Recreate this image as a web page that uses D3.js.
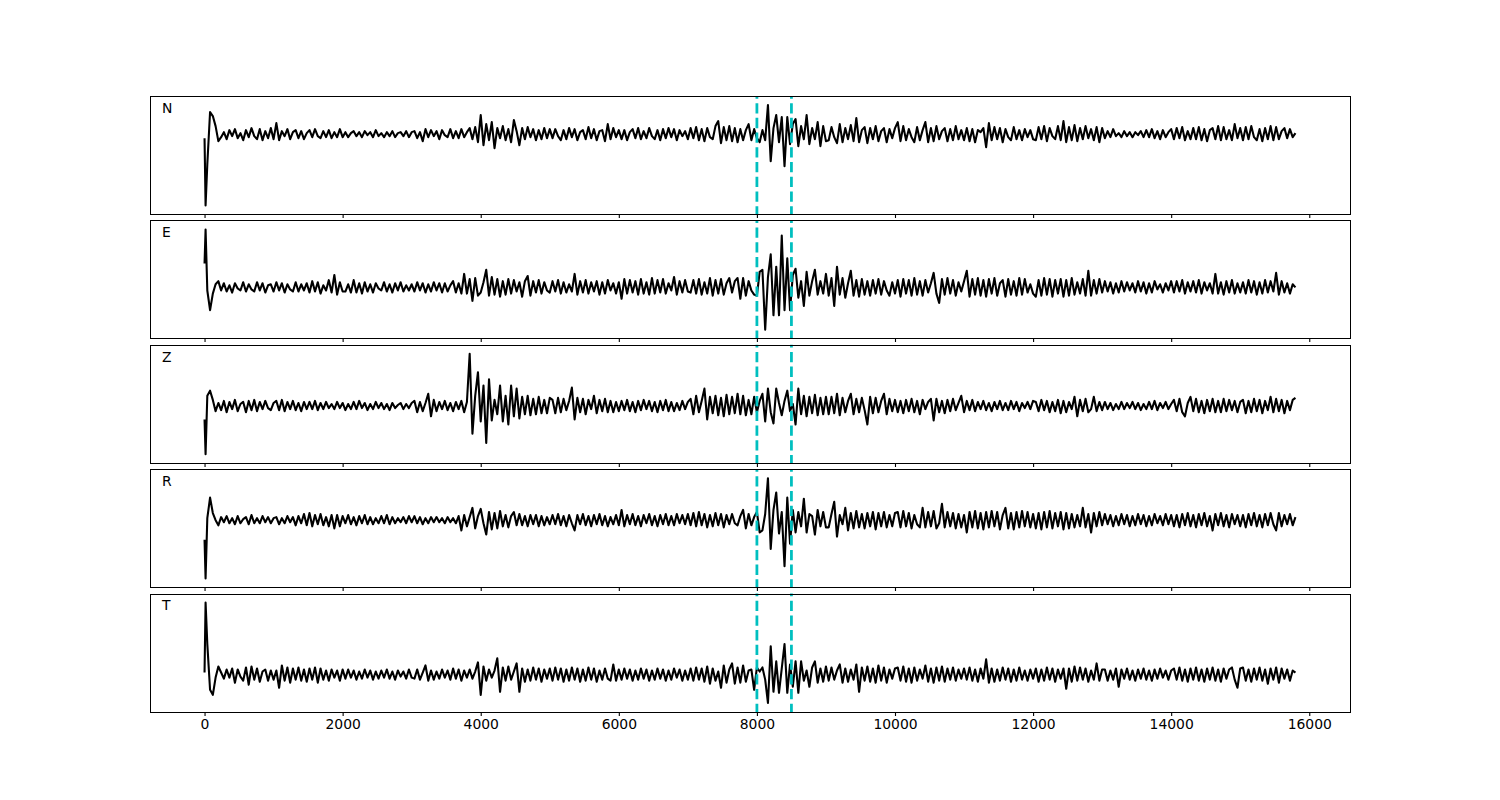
<!DOCTYPE html>
<html><head><meta charset="utf-8">
<script src="https://cdn.jsdelivr.net/npm/d3@7"></script>
<style>body{margin:0;background:#fff}svg{display:block}</style>
</head><body><svg id="chart" width="1500" height="800"></svg>
<script>
// ---------- data ----------
const channels = ["N", "E", "Z", "R", "T"];
const onsetTimes = [0, 15];
const regularTimes = d3.range(40, 15801, 40);
const times = onsetTimes.concat(regularTimes);
const markerTimes = [8000, 8500];
const tickValues = [0, 2000, 4000, 6000, 8000, 10000, 12000, 14000, 16000];

const traceN = [-4, -71,
 -30, 22, 18, 8, -7, -3, 2, -5, 4, -2, 5, -4, 1, -6, 4, -3, 6, -2, -5, 5, -6, 3, -4, 6, -5,
 11, -6, 3, -2, 5, -5, 2, 4, -4, 3, -5, 1, 4, -3, 5, -2, -4, 3, -3, 4, -4, 2, -3, 5, -3,
 2, -3, 1, 3, -2, 2, -3, 3, -1, 2, -3, 4, -2, 1, -3, 2, -2, 3, -3, 1, 2, -2, 3, -3, 2,
 3, -4, 2, -7, 5, -3, 4, -2, 3, -5, 4, -1, -3, 5, -4, 3, -4, 5, -3, 2, 6, -5, 7, -8, 19,
 -11, 10, -6, 12, -14, 6, -4, 8, -6, 5, -8, 14, 3, -11, 6, -5, 7, -3, 5, -6, 4, -5, 6, -4, 5,
 -4, 5, -2, -6, 4, -5, 6, -3, 5, -6, 2, 4, -5, 7, -4, 5, -6, 3, 4, -7, 10, -5, 6, -3, 4,
 -5, 4, -6, 2, 5, -4, 6, -5, 3, -4, 6, -2, -5, 4, -6, 5, -4, 6, -3, 5, -6, 4, -2, 3, -5,
 6, -4, 7, -6, 5, -7, 6, -3, -5, 8, 13, -9, 7, -6, 8, -7, 6, -8, 5, -6, 4, 10, -6, 5, -4,
 -8, 4, -6, 29, -27, 6, 19, -8, 17, -32, 17, -10, 10, 15, -12, 8, -5, 19, -10, 6, -5, 12, -12, 8, -7,
 -6, 7, -3, -9, 10, -8, 6, -5, 9, -7, 16, -8, 4, 7, -9, 6, -5, 8, -7, 3, 6, -8, 5, -4, 6,
 12, -7, 8, -6, 5, -3, -8, 7, -6, 4, 12, -8, 6, -7, 8, -5, 3, 6, -7, 5, -6, 8, -5, 4, -6,
 6, -7, 5, -8, 4, 2, 6, -13, 11, -6, 7, -5, 6, -8, 5, -3, -6, 7, -5, 4, -6, 5, -3, 4, -5,
 -6, 7, -5, 8, -7, 6, -2, -5, 8, -6, 13, -8, 7, -6, 9, -7, 6, -5, 8, -4, 5, -6, 7, -8, 6,
 -4, 3, -3, 5, -2, 1, -3, 3, -2, 2, -3, 2, -1, 3, -3, 4, -3, 5, -4, 3, -5, 4, -3, 2, 5,
 -5, 6, -4, 7, -6, 3, -5, 6, -5, 7, -6, 5, -7, 4, 6, -5, 8, -6, 7, -5, 4, -6, 10, -4, 6,
 -6, 7, -5, 8, -3, -6, 5, -7, 6, -5, 8, -6, 7, -5, 3, 6, -4, 5, -3, 1];

const traceE = [23, 56,
 -3, -22, -6, 3, 6, -3, 4, -4, 2, -5, 4, -1, -3, 5, -4, 3, -2, -4, 5, -3, 4, -5, 2, 3, -4,
 5, -3, 4, -5, 3, -2, -4, 5, -4, 3, -3, 4, -5, 6, -4, 5, -6, 2, -3, 7, -5, 12, -7, 5, -4,
 -4, 3, -5, 7, -5, 4, -6, 5, -4, 3, -5, 4, -1, -3, 5, -4, 3, -5, 4, -3, 5, -4, 2, -3, 3,
 -4, 5, -3, 4, -5, 3, -4, 5, -3, 4, -5, 4, -4, 2, 6, -5, 4, -6, 13, -6, 8, -13, 9, -8, -5,
 5, 17, -8, 10, -7, 8, -9, 6, -7, 8, -6, 7, -4, 5, -9, 6, 11, -8, 6, -5, 7, -6, 5, -3, -5,
 6, -4, 7, -6, 5, -5, 3, -4, 13, -7, 6, -5, 7, -6, 5, -4, 6, -7, 5, -6, 7, -3, 4, -6, 5,
 -11, 8, -6, 7, -5, 6, -7, 8, -6, 5, -7, 9, -6, 7, -5, 8, -6, 4, -3, 10, -7, 6, -5, 7, -4,
 -5, 7, -6, 8, -7, 5, -6, 9, -8, 7, -6, 8, -7, 4, 9, -5, 6, 9, -11, 9, -8, 6, -3, -7, -8,
 15, 17, -41, 10, 32, -27, 20, -27, 50, -22, 28, -22, 12, 18, -10, 6, -18, 15, -8, 6, 17, -7, 6, -6, 13,
 -8, 9, -18, 20, -7, 9, -10, 4, 16, -8, 7, -9, 8, -7, 6, -8, 7, -6, 8, -7, 6, -3, -8, 5, -6,
 7, -9, 8, -6, 7, -8, 9, -7, 6, -8, 7, -5, 4, 14, -6, -15, 8, -7, 9, -6, 7, -8, 5, -4, 6,
 16, -9, 8, -7, 9, -8, 7, -9, 8, -6, 9, -8, 4, 7, -9, 8, -7, 6, -8, 9, -7, 8, -5, 3, -6,
 -9, 7, -8, 9, -7, 8, -9, 7, -6, 8, -9, 7, -8, 9, -7, 5, -6, 8, -8, 16, -8, 7, -6, 8, -5,
 6, -4, 5, -6, 4, -5, 6, -4, 5, -3, 4, -5, 6, -4, 5, -6, 4, -5, 6, -2, 3, -5, 4, -3, 6,
 -5, 6, -4, 7, -6, 5, -4, 6, -5, 7, -6, 5, -3, 4, -6, 13, -6, 5, -7, 6, -5, 7, -6, 4, -5,
 5, -6, 7, -5, 6, -7, 5, -6, 7, -5, 6, -4, 14, -7, 6, -5, 4, -6, 3, 0];

const traceZ = [-13, -47,
 10, 15, 6, -5, 3, -4, 5, -6, 4, -3, 6, -5, 2, 4, -6, 5, -4, 6, -5, 4, -3, 5, -2, -4, 3,
 5, -4, 6, -5, 4, -3, 5, -4, 3, -5, 4, -3, 4, -3, 5, -4, 3, -3, 4, -2, 2, -3, 4, -2, 3,
 -4, 2, -3, 4, -3, 5, -2, 3, -4, 2, -3, 4, -2, 3, -3, 2, -4, 3, -2, 1, 3, -3, 2, -2, 3,
 5, -6, 4, -5, 3, 12, -10, 6, -5, 4, -3, 5, -4, 3, -5, 4, -3, 5, -6, 4, 51, -27, 10, 33, -15,
 20, -36, 26, -14, 6, -8, 20, -15, 10, -18, 20, -10, 17, -12, 9, -8, 10, -9, 7, -8, 9, -7, 6, -7, 8,
 6, -7, 8, -6, 7, -4, 5, 18, -13, 8, -6, 7, -8, 6, -3, 10, -7, 6, -5, 7, -6, 5, -6, 4, -5,
 5, -4, 6, -5, 4, -6, 5, -4, 6, -3, 5, -5, 4, -6, 5, -4, 6, -5, 4, -5, 3, -4, 5, -3, 4,
 7, -8, 10, -6, 5, 17, -13, 9, -7, 10, -9, 8, -10, 11, -8, 9, -7, 12, -8, 10, -9, 6, -8, 9, -6,
 5, 12, -15, 17, -6, -17, 17, 3, -9, 5, 15, -5, 2, -18, 17, -8, 10, -10, 9, -7, 11, -9, 8, -8, 9,
 -8, 9, -7, 12, -9, 8, -6, 5, 12, -8, 7, -6, 8, -4, -18, 9, -7, 8, -6, 5, 12, -8, 7, -5, 6,
 -6, 5, -7, 6, -5, 7, -6, 5, -8, 6, -3, 4, 7, -14, 7, -6, 5, -7, 6, -5, 7, -4, 3, 10, -6,
 5, -4, 6, -5, 4, -3, 5, -4, 3, -5, 4, -3, 5, -4, 3, -4, 5, -3, 4, -5, 3, -2, 4, -3, 5,
 4, -5, 6, -4, 5, -6, 4, -5, 6, -7, 5, -6, 4, -3, 9, -10, 6, -5, 7, -6, -3, 9, -5, 4, -4,
 4, -3, 3, -4, 2, -3, 4, -3, 3, -2, 4, -3, 3, -4, 2, -3, 4, -3, 5, -4, 3, -2, 4, -3, 2,
 6, -5, 7, -6, -10, 3, 9, -5, 7, -6, 5, -7, 6, -5, 7, -6, 5, -6, 7, -5, 6, -4, 5, -6, 4,
 6, -7, 5, -6, 7, -5, 6, -7, 5, -4, 9, -6, 7, -5, 6, -7, 5, -4, 6, 8];

const traceR = [-19, -57,
 2, 22, 7, 0, -5, 3, -2, 4, -3, 2, -4, 4, -3, 1, 3, -4, 5, -3, 2, -3, 4, -2, 3, -3, 2,
 3, -4, 2, -3, 4, -2, 3, -5, 4, -3, 6, -5, 7, -6, 5, -4, 6, -5, 3, -6, 5, -8, 5, -6, 4,
 -3, 5, -4, 3, -5, 4, -3, 5, -4, 3, -4, 2, -3, 4, -3, 5, -4, 3, -3, 2, -2, 3, -3, 4, -2,
 4, -3, 3, -4, 2, -3, 3, -2, 3, -2, 2, -3, 3, -2, 2, -3, 4, -10, 5, -6, 3, 12, -8, 4, 11,
 -3, -14, 8, -9, 7, -8, 9, -6, 5, -7, 4, 8, -5, 6, -5, 4, -6, 5, -4, 5, -6, 4, -5, 3, -4,
 5, -4, 6, -5, 4, -6, 5, -3, -10, 5, -4, 6, -5, 4, -6, 5, -4, 6, -5, 4, -6, 3, -4, 5, -5,
 10, -6, 5, -4, 6, -5, 4, -6, 5, -3, 6, -5, 4, -6, 5, -4, 6, -5, 4, -5, 6, -3, 5, -4, 6,
 -5, 7, -6, 8, -5, 6, -7, 5, -6, 7, -5, 6, -7, 5, -4, 6, -3, -5, 4, 10, -8, 6, -5, 3, 8,
 -12, -10, 6, 41, -28, 10, 27, -13, 8, -45, 22, -23, 10, -12, 8, -6, 21, -12, 6, 4, -14, 10, -6, 8, -7,
 -7, 6, 18, -16, 5, -4, 12, -10, 7, -8, 9, -7, 6, -8, 7, -6, 8, -9, 7, -6, 8, -7, 5, -6, 7,
 8, -7, 9, -6, 7, -8, 5, -4, -7, 12, -7, 8, -6, 9, -8, -3, 16, -7, 8, -6, 7, -8, 6, -7, 5,
 -12, 8, -7, 9, -8, 7, -9, 8, -7, 9, -6, 8, -9, 5, 12, -8, 7, -9, 8, -7, 9, -6, 8, -7, 6,
 -8, 7, -9, 8, -7, 9, -8, 7, -6, 8, -9, 7, -8, 6, -7, 5, -6, 12, -7, 6, -12, 7, -6, 8, -5,
 6, -4, 5, -6, 4, -5, 6, -4, 5, -6, 4, -5, 6, -4, 5, -6, 4, -5, 6, -3, 4, -5, 6, -4, 5,
 -6, 5, -7, 6, -5, 7, -6, 5, -7, 6, -5, 7, -6, 4, -10, 6, -5, 7, -6, 5, -7, 6, -4, 5, -6,
 5, -7, 6, -5, 7, -6, 5, -7, 6, -5, 7, -4, -10, 7, -6, 5, -4, 6, -5, 3];

const traceT = [2, 71,
 30, -15, -20, -3, 8, 2, -4, 5, -3, 6, -8, 5, -2, -6, 7, -10, 8, -5, 6, -7, 3, 5, -6, 4, -5,
 4, -13, 9, -6, 7, -8, 6, -5, 7, -6, 5, -7, 6, -5, 7, -8, 6, -5, 4, -6, 5, -3, 4, -6, 5,
 -4, 5, -3, 4, -5, 3, -4, 5, -3, 4, -5, 3, -4, 4, -3, 5, -4, 3, -5, 4, -2, 3, -4, 5, -3,
 -4, 5, -5, 2, 9, -6, 4, -5, 3, -4, 5, -3, 4, -5, 6, -4, 5, -6, 4, -3, 5, -4, 3, 12, -20,
 8, -6, 5, -3, 4, 16, -17, 7, -6, 8, -5, 3, 11, -17, 6, -7, 5, -6, 7, -5, 6, -7, 5, -4, 6,
 -6, 7, -5, 6, -7, 5, -6, 7, -5, 6, -7, 5, -6, 7, -5, 6, -7, 4, -5, 6, -4, -6, 10, -6, 5,
 -5, 6, -4, 5, -6, 4, -5, 6, -4, 5, -6, 4, -5, 6, -4, 5, -6, 4, -5, 6, -3, 5, -6, 4, -5,
 6, -6, 7, -5, 6, -7, 8, -9, 6, -6, 3, -13, 9, -8, 5, 11, -9, 7, -8, 9, -7, 4, 5, -15, 7,
 3, 7, -5, -28, 28, -17, 13, -18, 6, 30, -18, 10, -12, 13, -18, 13, -6, 4, -12, 7, 13, -8, 6, -7, 8,
 -6, 7, -5, 4, 10, -8, 6, -7, 5, -5, 10, -17, 7, -6, 8, -7, 6, -8, 9, -6, 7, -8, 5, -4, 6,
 7, -6, 8, -7, 6, -8, 7, -6, 5, -4, 9, -7, 6, -8, 7, -6, 8, -7, 6, -5, 7, -6, 5, -4, 6,
 -5, 7, -6, 5, -7, 6, -4, 15, -8, 6, -7, 5, -6, 7, -5, 6, -7, 5, -6, 7, -5, 4, -6, 5, -4,
 6, -7, 5, -6, 7, -5, 6, -7, 5, -4, 6, -14, 6, -7, 8, -6, 7, -5, 6, -7, 4, -5, 11, -6, 5,
 5, -6, 4, -5, 6, -12, 5, -4, 6, -5, 4, -6, 5, -4, 6, -5, 4, -6, 5, -4, 6, -3, 4, -5, 4,
 6, -5, 7, -6, 5, -7, 6, -5, 7, -6, 5, -7, 6, -5, 7, -6, 5, -7, 6, -4, 5, 7, -5, -13, 6,
 7, -6, 5, -7, 6, -5, 7, -6, 5, -9, 6, -5, 7, -8, 6, -4, 5, -6, 4, 2];

const traces = [traceN, traceE, traceZ, traceR, traceT];

// ---------- layout ----------
const svg = d3.select("#chart");
const plotLeft = 150, plotRight = 1350, plotTop = 96, plotBottom = 712;
const nP = channels.length, hspace = 0.05;
const ph = (plotBottom - plotTop) / (nP + (nP - 1) * hspace);
const gap = ph * hspace;

const tMin = d3.min(times), tMax = d3.max(times), span = tMax - tMin;
const x = d3.scaleLinear().domain([tMin - 0.05 * span, tMax + 0.05 * span]).range([plotLeft, plotRight]);

const lineWidth = 1.5 * 100 / 72;   // 1.5 pt
const cyanWidth = 2 * 100 / 72;     // 2 pt
const dash = [3.7 * cyanWidth, 1.6 * cyanWidth];

traces.forEach((tr, i) => {
  const y0 = plotTop + i * (ph + gap);
  const [mn, mx] = d3.extent(tr);
  const r = mx - mn;
  const y = d3.scaleLinear().domain([mn - 0.09 * r, mx + 0.09 * r]).range([y0 + ph, y0]);
  const g = svg.append("g");

  const n = Math.min(times.length, tr.length);
  const pts = d3.range(n).map(k => [times[k], tr[k]]);
  g.append("path")
    .datum(pts)
    .attr("fill", "none")
    .attr("stroke", "#000")
    .attr("stroke-width", lineWidth)
    .attr("stroke-linejoin", "round")
    .attr("d", d3.line().x(d => x(d[0])).y(d => y(d[1])));

  markerTimes.forEach(mt => {
    g.append("line")
      .attr("x1", x(mt)).attr("x2", x(mt))
      .attr("y1", y0 + ph).attr("y2", y0)
      .attr("stroke", "#00bfbf")
      .attr("stroke-width", cyanWidth)
      .attr("stroke-dasharray", dash.join(","))
      .attr("stroke-dashoffset", 2);
  });

  g.append("rect")
    .attr("x", plotLeft + 0.5).attr("y", Math.round(y0) + 0.5)
    .attr("width", plotRight - plotLeft).attr("height", Math.round(ph))
    .attr("fill", "none").attr("stroke", "#000").attr("stroke-width", 1);

  const axis = d3.axisBottom(x).tickValues(tickValues).tickSize(3.5).tickPadding(3.5)
    .tickSizeOuter(0).tickFormat(d3.format("d"));
  if (i < nP - 1) axis.tickFormat("");
  const ag = g.append("g")
    .attr("transform", `translate(0,${Math.round(y0) + Math.round(ph) + 0.5})`)
    .call(axis);
  ag.select(".domain").remove();
  ag.selectAll(".tick line").attr("stroke", "#000").attr("stroke-width", 1.1);
  ag.selectAll(".tick text")
    .attr("fill", "#000")
    .style("font-family", "DejaVu Sans, sans-serif")
    .style("font-size", "13.9px");

  g.append("text")
    .attr("x", plotLeft + 0.01 * (plotRight - plotLeft))
    .attr("y", y0 + 0.1 * ph)
    .attr("dominant-baseline", "central")
    .style("font-family", "DejaVu Sans, sans-serif")
    .style("font-size", "13.9px")
    .text(channels[i]);
});
</script>
</body></html>
